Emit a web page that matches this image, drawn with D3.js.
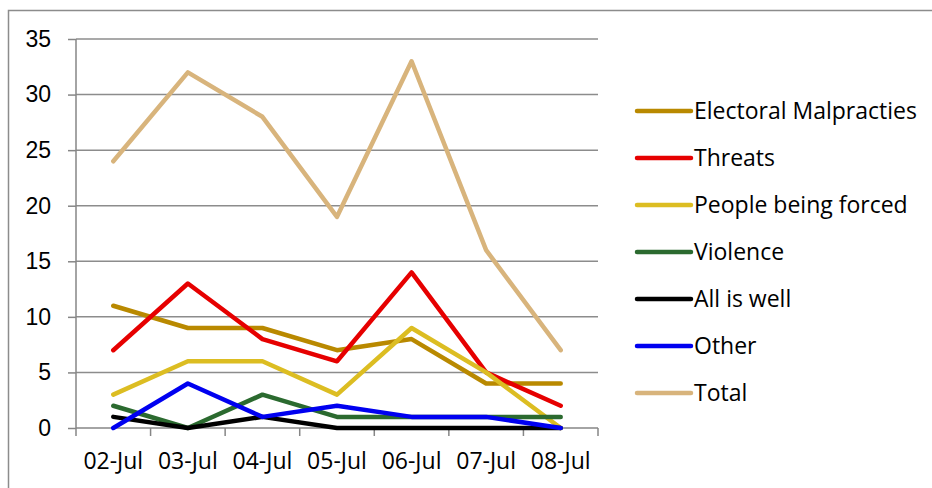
<!DOCTYPE html>
<html>
<head>
<meta charset="utf-8">
<script src="https://cdn.jsdelivr.net/npm/d3@7"></script>
<style>
  body { margin: 0; background: #fff; }
  svg { display: block; font-family: "Open Sans", sans-serif; }
  .axis path, .axis line { stroke: #868686; stroke-width: 1.5; }
  .axis text { fill: #000; font-size: 23px; }
  .grid line { stroke: #8c8c8c; stroke-width: 1.5; }
</style>
</head>
<body>
<svg id="chart"></svg>
<script>
// Daily counts per category
const dates = ['02-Jul', '03-Jul', '04-Jul', '05-Jul', '06-Jul', '07-Jul', '08-Jul'];
const electoral = [11, 9, 9, 7, 8, 4, 4];
const threats = [7, 13, 8, 6, 14, 5, 2];
const forced = [3, 6, 6, 3, 9, 5, 0];
const violence = [2, 0, 3, 1, 1, 1, 1];
const allIsWell = [1, 0, 1, 0, 0, 0, 0];
const other = [0, 4, 1, 2, 1, 1, 0];
const total = [24, 32, 28, 19, 33, 16, 7];
const yTicks = [0, 5, 10, 15, 20, 25, 30, 35];

const series = [
    { name: 'Electoral Malpracties', values: electoral, color: '#b98900' },
    { name: 'Threats', values: threats, color: '#e60000' },
    { name: 'People being forced', values: forced, color: '#dcbd22' },
    { name: 'Violence', values: violence, color: '#2b6a2f' },
    { name: 'All is well', values: allIsWell, color: '#000000' },
    { name: 'Other', values: other, color: '#0000f0' },
    { name: 'Total', values: total, color: '#d8b47c' }
];

const WIDTH = 932;
const HEIGHT = 488;
const plot = { left: 76, right: 598, top: 39, bottom: 428 };

let svg = d3.select('#chart')
    .attr('width', WIDTH)
    .attr('height', HEIGHT);

// chart area border (runs off the right/bottom edge like the original)
svg.append('rect')
    .attr('x', 8.5)
    .attr('y', 10.5)
    .attr('width', 1000)
    .attr('height', 1000)
    .attr('fill', 'none')
    .attr('stroke', '#8c8c8c')
    .attr('stroke-width', 1.5);

let xScale = d3.scaleBand()
    .domain(dates)
    .range([plot.left, plot.right]);

let yScale = d3.scaleLinear()
    .domain([0, 35])
    .range([plot.bottom, plot.top]);

// horizontal gridlines
svg.append('g')
    .attr('class', 'grid')
    .selectAll('line')
    .data(yTicks.filter(d => d > 0))
    .enter().append('line')
    .attr('x1', plot.left)
    .attr('x2', plot.right)
    .attr('y1', d => yScale(d))
    .attr('y2', d => yScale(d));

let yAxis = d3.axisLeft(yScale)
    .tickValues(yTicks)
    .tickSize(8)
    .tickPadding(17);

svg.append('g')
    .attr('class', 'axis')
    .attr('transform', `translate(${plot.left}, 0)`)
    .call(yAxis)
    .call(g => g.select('.domain').attr('d', `M0,${plot.top}V${plot.bottom}`));

// x axis: ticks sit on the category boundaries
let xAxisG = svg.append('g')
    .attr('class', 'axis')
    .attr('transform', `translate(0, ${plot.bottom})`);

xAxisG.append('line')
    .attr('x1', plot.left)
    .attr('x2', plot.right)
    .attr('y1', 0)
    .attr('y2', 0);

xAxisG.selectAll('.xtick')
    .data(dates.concat(['end']))
    .enter().append('line')
    .attr('class', 'xtick')
    .attr('x1', (d, i) => i < dates.length ? xScale(d) : plot.right)
    .attr('x2', (d, i) => i < dates.length ? xScale(d) : plot.right)
    .attr('y1', 0)
    .attr('y2', 8);

xAxisG.selectAll('.xlabel')
    .data(dates)
    .enter().append('text')
    .attr('class', 'xlabel')
    .attr('x', d => xScale(d) + xScale.bandwidth() / 2)
    .attr('y', 33)
    .attr('dy', '0.35em')
    .attr('text-anchor', 'middle')
    .text(d => d);

// lines
let line = d3.line()
    .x((d, i) => xScale(dates[i]) + xScale.bandwidth() / 2)
    .y(d => yScale(d));

svg.append('g')
    .selectAll('path')
    .data(series)
    .enter().append('path')
    .attr('d', d => line(d.values))
    .attr('fill', 'none')
    .attr('stroke', d => d.color)
    .attr('stroke-width', 4.5)
    .attr('stroke-linejoin', 'round')
    .attr('stroke-linecap', 'round');

// legend
const legendX = 637;
const legendY = 111;
const legendStep = 47;

let legend = svg.append('g')
    .selectAll('g')
    .data(series)
    .enter().append('g')
    .attr('transform', (d, i) => `translate(${legendX}, ${legendY + i * legendStep})`);

legend.append('line')
    .attr('x1', 0)
    .attr('x2', 54)
    .attr('stroke', d => d.color)
    .attr('stroke-width', 4.5)
    .attr('stroke-linecap', 'round');

legend.append('text')
    .attr('x', 57)
    .attr('dy', '0.35em')
    .style('font-size', '23px')
    .text(d => d.name);
</script>
</body>
</html>
